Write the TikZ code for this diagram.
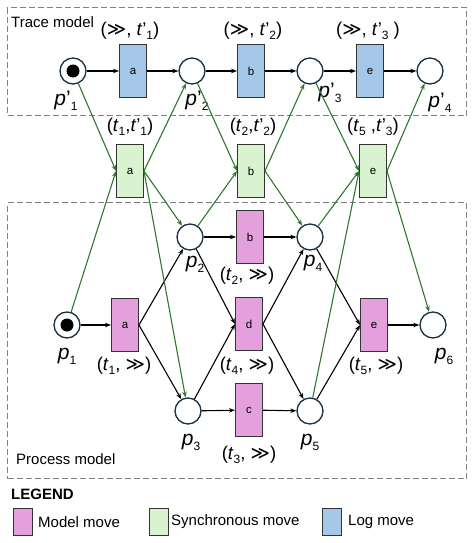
\documentclass[tikz,border=0pt]{standalone}
\usepackage{fontspec}
\setmainfont{Liberation Sans}
\newfontfamily\dejavu{DejaVu Sans}
\usetikzlibrary{arrows.meta}
\definecolor{pinkf}{RGB}{228,160,220}
\definecolor{greenf}{RGB}{217,242,208}
\definecolor{bluef}{RGB}{166,200,232}
\definecolor{navy}{RGB}{24,48,66}
\definecolor{darkg}{RGB}{46,120,46}
\definecolor{dashg}{RGB}{128,128,128}
\newcommand\gtrr{{\dejavu ≫}}
\newcommand\sbx[1]{\raisebox{-0.45ex}{\fontsize{12}{12}\selectfont #1}}
\newcommand\tsub[1]{\textit{t}\sbx{#1}}
\newcommand\tpsub[1]{\textit{t}’\sbx{#1}}
\begin{document}
\begin{tikzpicture}[x=1pt,y=-1pt,
  place/.style={circle,draw=navy,line width=1.3pt,minimum size=26pt,inner sep=0pt,fill=white},
  trans/.style={rectangle,draw=black!80,line width=0.9pt,minimum width=27pt,minimum height=53pt,inner sep=0pt,font=\fontsize{11.5}{11.5}\selectfont},
  mm/.style={trans,fill=pinkf},
  sm/.style={trans,fill=greenf},
  lm/.style={trans,fill=bluef},
  arr/.style={-{Stealth[length=6pt,width=4.5pt]},line width=1.1pt,black},
  garr/.style={-{Stealth[length=6pt,width=4.5pt]},line width=1.1pt,darkg},
  lab/.style={inner sep=0pt,font=\fontsize{18.5}{18.5}\selectfont},
  plab/.style={inner sep=0pt,font=\fontsize{21}{21}\selectfont},
  box/.style={draw=dashg,line width=1.2pt,dash pattern=on 6pt off 3pt},
  txt/.style={inner sep=0pt,anchor=west,font=\fontsize{15}{15}\selectfont},
  token/.style={circle,fill=black,minimum size=13pt,inner sep=0pt},
  legbox/.style={rectangle,draw=black!80,line width=0.9pt,minimum width=19pt,minimum height=27pt,inner sep=0pt}
]
\useasboundingbox (0,0) rectangle (473,543);
% dashed boxes
\node[box,rectangle,minimum width=459pt,minimum height=108pt,anchor=north west,inner sep=0pt] (tracebox) at (7,7) {};
\node[box,rectangle,minimum width=459pt,minimum height=276pt,anchor=north west,inner sep=0pt] (procbox) at (7,202) {};
\node[txt] (tracetxt) at (11,22) {Trace model};
\node[txt] (proctxt) at (16,459) {Process model};
% trace model
\node[place] (pp1) at (73,71) {};
\node[token] (tokp) at (73,71) {};
\node[lm] (ta) at (133,71) {a};
\node[place] (pp2) at (192,71) {};
\node[lm] (tb) at (251,71) {b};
\node[place] (pp3) at (310,71) {};
\node[lm] (te) at (370,71) {e};
\node[place] (pp4) at (430,71) {};
% sync
\node[sm] (sa) at (130,171) {a};
\node[sm] (sb) at (251,171) {b};
\node[sm] (se) at (373,171) {e};
% process model
\node[place] (p1) at (67,325) {};
\node[token] (tok1) at (67,325) {};
\node[mm] (ma) at (125,325) {a};
\node[place] (p2) at (190,237) {};
\node[mm] (mb) at (250,237) {b};
\node[place] (p4) at (310,237) {};
\node[mm] (md) at (249,324) {d};
\node[mm] (me) at (374,325) {e};
\node[place] (p6) at (433,325) {};
\node[place] (p3) at (188,411) {};
\node[mm] (mc) at (249,410) {c};
\node[place] (p5) at (310,411) {};
% labels
\node[lab] (l1) at (130,31) {(\gtrr, \tpsub{1})};
\node[lab] (l2) at (253,31) {(\gtrr, \tpsub{2})};
\node[lab] (l3) at (368,31) {(\gtrr, \tpsub{3} )};
\node[lab] (l4) at (130,127) {(\tsub{1},\tpsub{1})};
\node[lab] (l5) at (253,127) {(\tsub{2},\tpsub{2})};
\node[lab] (l6) at (373,127) {(\tsub{5} ,\tpsub{3})};
\node[lab] (l7) at (247,276) {(\tsub{2}, \gtrr)};
\node[lab] (l8) at (124,366) {(\tsub{1}, \gtrr)};
\node[lab] (l9) at (247,366) {(\tsub{4}, \gtrr)};
\node[lab] (l10) at (376,366) {(\tsub{5}, \gtrr)};
\node[lab] (l11) at (249,455) {(\tsub{3}, \gtrr)};
\node[plab] (lp1) at (66,101) {\textit{p}’\sbx{1}};
\node[plab] (lp2) at (197,101) {\textit{p}’\sbx{2}};
\node[plab] (lp3) at (330,93) {\textit{p}’\sbx{3}};
\node[plab] (lp4) at (440,103) {\textit{p}’\sbx{4}};
\node[plab] (lq1) at (67,356) {\textit{p}\sbx{1}};
\node[plab] (lq2) at (195,264) {\textit{p}\sbx{2}};
\node[plab] (lq4) at (313,263) {\textit{p}\sbx{4}};
\node[plab] (lq6) at (444,356) {\textit{p}\sbx{6}};
\node[plab] (lq3) at (191,442) {\textit{p}\sbx{3}};
\node[plab] (lq5) at (310,442) {\textit{p}\sbx{5}};
% black arcs trace
\draw[arr] (pp1) -- (ta);
\draw[arr] (ta) -- (pp2);
\draw[arr] (pp2) -- (tb);
\draw[arr] (tb) -- (pp3);
\draw[arr] (pp3) -- (te);
\draw[arr] (te) -- (pp4);
% black arcs model
\draw[arr] (p1) -- (ma);
\draw[arr] (ma.east) -- (p2);
\draw[arr] (ma.east) -- (p3);
\draw[arr] (p2) -- (mb);
\draw[arr] (mb) -- (p4);
\draw[arr] (p2) -- (md.west);
\draw[arr] (p3) -- (md.west);
\draw[arr] (md.east) -- (p4);
\draw[arr] (md.east) -- (p5);
\draw[arr] (p3) -- (mc);
\draw[arr] (mc) -- (p5);
\draw[arr] (p4) -- (me.west);
\draw[arr] (p5) -- (me.west);
\draw[arr] (me) -- (p6);
% green arcs
\draw[garr] (pp1) -- (sa.west);
\draw[garr] (p1) -- (sa.west);
\draw[garr] (sa.east) -- (pp2);
\draw[garr] (sa.east) -- (p2);
\draw[garr] (sa.east) -- (p3);
\draw[garr] (pp2) -- (sb.west);
\draw[garr] (p2) -- (sb.west);
\draw[garr] (sb.east) -- (pp3);
\draw[garr] (sb.east) -- (p4);
\draw[garr] (pp3) -- (se.west);
\draw[garr] (p4) -- (se.west);
\draw[garr] (p5) -- (se.west);
\draw[garr] (se.east) -- (pp4);
\draw[garr] (se.east) -- (p6);
% legend
\node[txt,font=\fontsize{15}{15}\selectfont\bfseries] (legt) at (11,494) {LEGEND};
\node[legbox,fill=pinkf] (lg1) at (22.5,521.5) {};
\node[txt] (lt1) at (38,522) {Model move};
\node[legbox,fill=greenf] (lg2) at (158.5,521.5) {};
\node[txt] (lt2) at (171,522) {Synchronous move};
\node[legbox,fill=bluef] (lg3) at (332,521.5) {};
\node[txt] (lt3) at (348,522) {Log move};
\end{tikzpicture}
\end{document}
